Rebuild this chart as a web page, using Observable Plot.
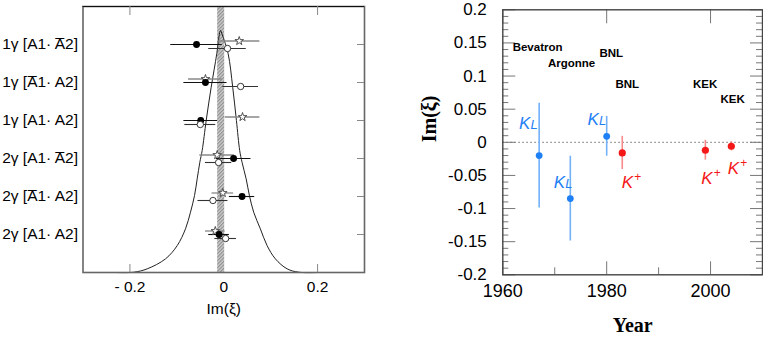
<!DOCTYPE html>
<html><head><meta charset="utf-8">
<script src="https://cdn.jsdelivr.net/npm/d3@7"></script>
<script src="https://cdn.jsdelivr.net/npm/@observablehq/plot@0.6"></script>
<style>
body{margin:0;background:#fff;font-family:"Liberation Sans",Arial,sans-serif;}
#c{display:flex;width:763px;height:338px;}
svg{overflow:visible;}
</style></head>
<body><div id="c"></div>
<script>
// ---------- Left panel data ----------
const rowLabels = ["1γ [A1· A̅2]", "1γ [A̅1· A2]", "1γ [A1· A2]", "2γ [A1· A̅2]", "2γ [A̅1· A2]", "2γ [A1· A2]"];
const rowPos = [6, 5, 4, 3, 2, 1];
const filledVal = [-0.058, -0.039, -0.049, 0.021, 0.039, -0.010];
const filledErr = [0.055, 0.046, 0.036, 0.037, 0.027, 0.022];
const openVal = [0.008, 0.036, -0.050, -0.011, -0.023, 0.004];
const openErr = [0.040, 0.038, 0.033, 0.028, 0.032, 0.023];
const starVal = [0.033, -0.039, 0.040, -0.014, -0.002, -0.018];
const starErr = [0.044, 0.036, 0.037, 0.037, 0.023, 0.021];
const bandRange = [-0.013, 0.002];
const curveX = [-0.23, -0.1915, -0.163, -0.124, -0.0991, -0.0815, -0.0709, -0.0623, -0.0566, -0.051, -0.046, -0.0374, -0.0268, -0.0149, -0.010, -0.007, -0.003, 0.0094, 0.0191, 0.027, 0.034, 0.039, 0.0477, 0.0547, 0.0638, 0.078, 0.0923, 0.11, 0.135, 0.16, 0.2];
const curveY = [0, 0.008, 0.097, 0.36, 0.71, 1.15, 1.587, 2.026, 2.466, 2.90, 3.21, 4.0, 4.876, 5.755, 6.22, 6.37, 6.25, 5.755, 4.876, 4.0, 3.21, 2.90, 2.466, 2.026, 1.587, 1.15, 0.71, 0.36, 0.097, 0.008, 0];
const leftXTicks = [-0.2, 0, 0.2];
const leftXTickLabels = ["- 0.2", "0", "0.2"];
const leftXLabel = "Im(ξ)";

// ---------- Right panel data ----------
const klYear = [1967, 1973, 1980];
const klVal = [-0.020, -0.085, 0.009];
const klErr = [0.079, 0.064, 0.030];
const kpYear = [1983, 1999, 2004];
const kpVal = [-0.016, -0.012, -0.006];
const kpErr = [0.025, 0.015, 0.007];
const labNames = ["Bevatron", "Argonne", "BNL", "BNL", "KEK", "KEK"];
const labX = [1961.9, 1968.7, 1978.6, 1981.7, 1996.6, 2001.9];
const labY = [0.143, 0.119, 0.134, 0.087, 0.087, 0.065];
const klLabelX = [1963.1, 1969.8, 1976.3];
const klLabelY = [0.028, -0.060, 0.035];
const kpLabelX = [1982.9, 1998.2, 2003.3];
const kpLabelY = [-0.061, -0.055, -0.040];
const rightYTicks = [0.2, 0.15, 0.1, 0.05, 0, -0.05, -0.1, -0.15, -0.2];
const rightYTickLabels = ["0.2", "0.15", "0.1", "0.05", "0", "-0.05", "-0.1", "-0.15", "-0.2"];
const rightYMinor = d3.range(-20, 21).map(i => i / 100);
const rightXTicks = [1960, 1980, 2000];
const rightXTickLabels = ["1960", "1980", "2000"];
const rightXMinor = [1970, 1990];
const rightXLabel = "Year";
const rightYLabel = "Im(ξ)";

const mk = (vals, errs) => vals.map((v, i) => ({y: rowPos[i], v, lo: v - errs[i], hi: v + errs[i]}));
const filled = mk(filledVal, filledErr);
const open = mk(openVal, openErr);
const star = mk(starVal, starErr);
const curve = curveX.map((x, i) => ({x, y: curveY[i]}));

const LH = 338 - 6 - 66; // inner height left
const left = Plot.plot({
  width: 380, height: 338,
  marginLeft: 82.5, marginRight: 16, marginTop: 6, marginBottom: 66,
  style: {fontFamily: "Liberation Sans, Arial, sans-serif", background: "#fff", color: "#000"},
  x: {domain: [-0.3, 0.3]},
  y: {domain: [0, 7]},
  marks: [
    Plot.rectX([bandRange], {x1: d => d[0], x2: d => d[1], fill: "url(#hatch)"}),
    Plot.line(curve, {x: "x", y: "y", stroke: "#222", strokeWidth: 1, curve: "catmull-rom"}),
    Plot.ruleY(star, {y: "y", x1: "lo", x2: "hi", dy: -3.5, stroke: "#888", strokeWidth: 1.3}),
    Plot.ruleY(filled, {y: "y", x1: "lo", x2: "hi", stroke: "#111", strokeWidth: 1.1}),
    Plot.ruleY(open, {y: "y", x1: "lo", x2: "hi", dy: 4, stroke: "#333", strokeWidth: 1.1}),
    Plot.dot(star, {x: "v", y: "y", dy: -3.5, symbol: "star", r: 2.7, fill: "#fff", stroke: "#444", strokeWidth: 0.9}),
    Plot.dot(filled, {x: "v", y: "y", r: 2.7, fill: "#000", stroke: "#000"}),
    Plot.dot(open, {x: "v", y: "y", dy: 4, r: 3.2, fill: "#fff", stroke: "#222", strokeWidth: 0.9}),
    Plot.frame({stroke: "#666", strokeWidth: 1.6}),
    Plot.ruleY([7], {y: d => d, stroke: "#111", strokeWidth: 1.2}),
    Plot.ruleX(leftXTicks.filter(d => d !== 0), {x: d => d, insetTop: LH - 8, stroke: "#888"}),
    Plot.ruleX(leftXTicks.filter(d => d !== 0), {x: d => d, insetBottom: LH - 9, stroke: "#888"}),
    Plot.ruleY(rowPos, {y: d => d, insetLeft: (380 - 82.5 - 16) - 7, stroke: "#888"}),
    Plot.axisX({ticks: leftXTicks, tickFormat: d => leftXTickLabels[leftXTicks.indexOf(d)], tickSize: 0, tickPadding: 8, fontSize: 15.5, label: null}),
    Plot.axisY({ticks: rowPos, tickFormat: d => rowLabels[rowPos.indexOf(d)], tickSize: 0, tickPadding: 5, fontSize: 15.5, label: null}),
    Plot.text([leftXLabel], {text: d => d, frameAnchor: "bottom", dy: 37, fontSize: 15.5, lineAnchor: "middle"})
  ]
});
const defs = document.createElementNS("http://www.w3.org/2000/svg", "defs");
defs.innerHTML = '<pattern id="hatch" patternUnits="userSpaceOnUse" width="2.5" height="2.5" patternTransform="rotate(45)"><rect width="2.5" height="2.5" fill="#cfcfcf"/><line x1="0.6" y1="0" x2="0.6" y2="2.5" stroke="#8a8a8a" stroke-width="1.1"/></pattern>';
left.insertBefore(defs, left.firstChild);

const RH = 338 - 9.3 - 63.7;
const RW = 383 - 122.3 - 1;
const kl = klYear.map((x, i) => ({x, v: klVal[i], lo: klVal[i] - klErr[i], hi: klVal[i] + klErr[i]}));
const kp = kpYear.map((x, i) => ({x, v: kpVal[i], lo: kpVal[i] - kpErr[i], hi: kpVal[i] + kpErr[i]}));
const labs = labNames.map((t, i) => ({t, x: labX[i], y: labY[i]}));
const klL = klLabelX.map((x, i) => ({x, y: klLabelY[i]}));
const kpL = kpLabelX.map((x, i) => ({x, y: kpLabelY[i]}));
const majorY = rightYTicks;
const minorY = rightYMinor.filter(d => !majorY.some(m => Math.abs(m - d) < 1e-9));
const blue = "#1f80f5", blueBar = "#72b0f7", red = "#f41818", redBar = "#f78a8a";

const right = Plot.plot({
  width: 383, height: 338,
  marginLeft: 122.3, marginRight: 1, marginTop: 9.3, marginBottom: 63.7,
  style: {fontFamily: "Liberation Sans, Arial, sans-serif", background: "#fff", color: "#000"},
  x: {domain: [1960, 2010]},
  y: {domain: [-0.2, 0.2]},
  marks: [
    Plot.ruleY([0], {stroke: "#888", strokeWidth: 1.3, strokeDasharray: "1.5,2.5"}),
    Plot.ruleY(minorY, {y: d => d, insetRight: RW - 6, stroke: "#777"}),
    Plot.ruleY(majorY, {y: d => d, insetRight: RW - 13, stroke: "#777"}),
    Plot.ruleY(minorY, {y: d => d, insetLeft: RW - 6, stroke: "#777"}),
    Plot.ruleY(majorY, {y: d => d, insetLeft: RW - 12, stroke: "#777"}),
    Plot.ruleX(rightXTicks, {x: d => d, insetTop: RH - 13, stroke: "#777"}),
    Plot.ruleX(rightXMinor, {x: d => d, insetTop: RH - 7, stroke: "#777"}),
    Plot.ruleX(rightXTicks, {x: d => d, insetBottom: RH - 14, stroke: "#777"}),
    Plot.frame({stroke: "#444", strokeWidth: 1.4}),
    Plot.ruleX(kl, {x: "x", y1: "lo", y2: "hi", stroke: blueBar, strokeWidth: 1.6}),
    Plot.ruleX(kp, {x: "x", y1: "lo", y2: "hi", stroke: redBar, strokeWidth: 1.6}),
    Plot.dot(kl, {x: "x", y: "v", r: 3.4, fill: blue}),
    Plot.dot(kp, {x: "x", y: "v", r: 3.6, fill: red}),
    Plot.text(labs, {x: "x", y: "y", text: "t", textAnchor: "start", fontSize: 11.5, fontWeight: "bold", fill: "#000"}),
    Plot.text(klL, {x: "x", y: "y", text: () => "K", textAnchor: "start", fontSize: 17, fontStyle: "italic", fill: blue}),
    Plot.text(klL, {x: "x", y: "y", text: () => "L", textAnchor: "start", dx: 11.5, dy: 1.5, fontSize: 13, fontStyle: "italic", fill: blue}),
    Plot.text(kpL, {x: "x", y: "y", text: () => "K", textAnchor: "start", fontSize: 17, fontStyle: "italic", fill: red}),
    Plot.text(kpL, {x: "x", y: "y", text: () => "+", textAnchor: "start", dx: 12.5, dy: -6, fontSize: 12, fill: red}),
    Plot.axisY({ticks: rightYTicks, tickFormat: d => rightYTickLabels[rightYTicks.indexOf(d)], tickSize: 0, tickPadding: 16, fontSize: 17, label: null}),
    Plot.axisX({ticks: rightXTicks, tickFormat: d => rightXTickLabels[rightXTicks.indexOf(d)], tickSize: 0, tickPadding: 9, fontSize: 18, label: null}),
    Plot.text([rightXLabel], {text: d => d, frameAnchor: "bottom", dy: 51, fontSize: 20, fontWeight: "bold", fontFamily: "Liberation Serif, Times New Roman, serif", lineAnchor: "middle"}),
    Plot.text([rightYLabel], {text: d => d, frameAnchor: "left", dx: -73, rotate: -90, fontSize: 20, fontWeight: "bold", fontFamily: "Liberation Serif, Times New Roman, serif", lineAnchor: "middle"})
  ]
});

document.getElementById("c").append(left, right);
</script>
</body></html>
